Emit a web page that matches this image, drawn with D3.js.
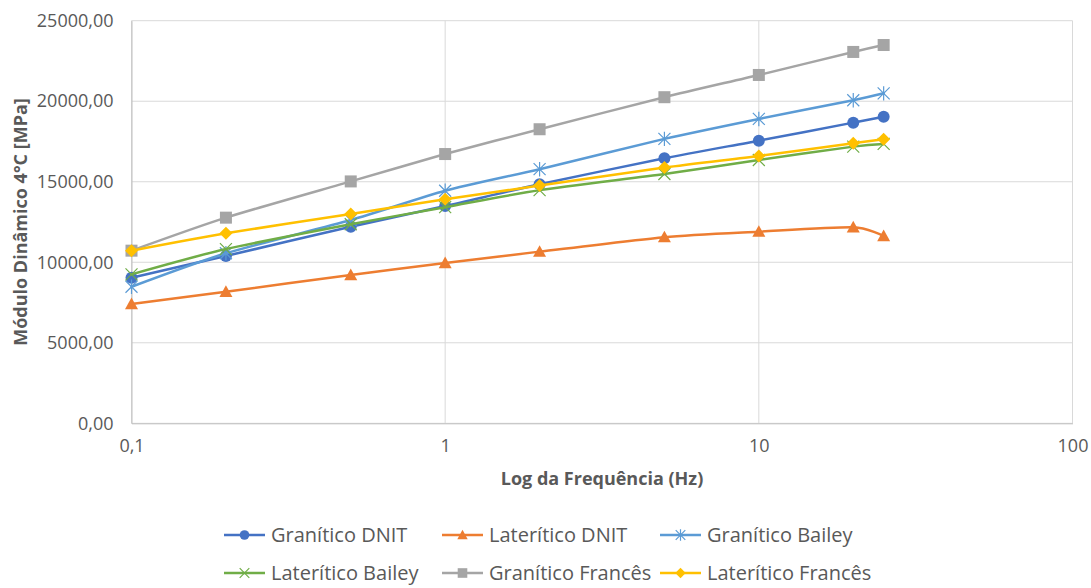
<!DOCTYPE html>
<html>
<head>
<meta charset="utf-8">
<script src="https://d3js.org/d3.v7.min.js"></script>
<style>
  body { margin: 0; background: #fff; }
  text { font-family: "Open Sans", Lato, sans-serif; }
</style>
</head>
<body>
<svg id="chart" width="1091" height="588"></svg>
<script>
const frequencies = [0.1, 0.2, 0.5, 1, 2, 5, 10, 20, 25];
const seriesNames = ["Granítico DNIT", "Laterítico DNIT", "Granítico Bailey", "Laterítico Bailey", "Granítico Francês", "Laterítico Francês"];
const graniticoDNIT   = [9040, 10390, 12210, 13490, 14840, 16460, 17550, 18670, 19040];
const lateriticoDNIT  = [7410, 8170, 9210, 9950, 10660, 11560, 11900, 12170, 11630];
const graniticoBailey = [8480, 10560, 12620, 14440, 15780, 17660, 18900, 20060, 20490];
const lateriticoBailey= [9250, 10820, 12360, 13420, 14480, 15480, 16350, 17180, 17350];
const graniticoFrances= [10720, 12770, 15020, 16720, 18260, 20250, 21630, 23060, 23490];
const lateriticoFrances=[10720, 11800, 13000, 13910, 14760, 15880, 16600, 17390, 17640];
const xTicks = [0.1, 1, 10, 100];
const yTicks = [0, 5000, 10000, 15000, 20000, 25000];

const colors = ["#4472C4", "#ED7D31", "#5B9BD5", "#70AD47", "#A5A5A5", "#FFC000"];
const markers = ["circle", "triangle", "asterisk", "cross", "square", "diamond"];
const allValues = [graniticoDNIT, lateriticoDNIT, graniticoBailey, lateriticoBailey, graniticoFrances, lateriticoFrances];

const svg = d3.select("#chart");
const pLeft = 131.5, pRight = 1072.5, pTop = 20.7, pBottom = 423.3;

const x = d3.scaleLog().domain([0.1, 100]).range([pLeft, pRight]);
const y = d3.scaleLinear().domain([0, 25000]).range([pBottom, pTop]);

// gridlines
svg.append("g").selectAll("line").data(yTicks).join("line")
  .attr("x1", pLeft).attr("x2", pRight)
  .attr("y1", d => y(d)).attr("y2", d => y(d))
  .attr("stroke", "#d9d9d9").attr("stroke-width", 1);
svg.append("g").selectAll("line").data(xTicks).join("line")
  .attr("x1", d => x(d)).attr("x2", d => x(d))
  .attr("y1", pTop).attr("y2", pBottom)
  .attr("stroke", "#d9d9d9").attr("stroke-width", 1);

// axes
const fmtY = d => d3.format(".2f")(d).replace(".", ",");
const fmtX = d => String(d).replace(".", ",");
const yAxis = svg.append("g").attr("transform", `translate(${pLeft},0)`)
  .call(d3.axisLeft(y).tickValues(yTicks).tickFormat(fmtY).tickSize(0).tickPadding(18));
yAxis.select(".domain").attr("stroke", "#bfbfbf");
yAxis.selectAll("text").attr("font-size", 18).attr("fill", "#595959");
const xAxis = svg.append("g").attr("transform", `translate(0,${pBottom})`)
  .call(d3.axisBottom(x).tickValues(xTicks).tickFormat(fmtX).tickSize(0).tickPadding(16));
xAxis.select(".domain").attr("stroke", "#bfbfbf");
xAxis.selectAll("text").attr("font-size", 18).attr("fill", "#595959");

// axis titles
svg.append("text").attr("x", (pLeft + pRight) / 2).attr("y", 485)
  .attr("text-anchor", "middle").attr("font-size", 18).attr("font-weight", "bold")
  .attr("fill", "#595959").text("Log da Frequência (Hz)");
svg.append("text").attr("transform", `translate(27,${(pTop + pBottom) / 2}) rotate(-90)`)
  .attr("text-anchor", "middle").attr("font-size", 18).attr("font-weight", "bold")
  .attr("fill", "#595959").text("Módulo Dinâmico 4°C [MPa]");

function drawMarker(g, type, cx, cy, color, s) {
  s = s || 1;
  if (type === "circle") {
    g.append("circle").attr("cx", cx).attr("cy", cy).attr("r", 6 * s).attr("fill", color);
  } else if (type === "triangle") {
    const r = 6.5 * s;
    g.append("path").attr("d", `M${cx},${cy - r}L${cx + r},${cy + r * 0.8}L${cx - r},${cy + r * 0.8}Z`).attr("fill", color);
  } else if (type === "square") {
    const r = 6 * s;
    g.append("rect").attr("x", cx - r).attr("y", cy - r).attr("width", 2 * r).attr("height", 2 * r).attr("fill", color);
  } else if (type === "diamond") {
    const r = 6.5 * s;
    g.append("path").attr("d", `M${cx},${cy - r}L${cx + r},${cy}L${cx},${cy + r}L${cx - r},${cy}Z`).attr("fill", color);
  } else if (type === "cross") {
    const r = 6 * s;
    g.append("path").attr("d", `M${cx - r},${cy - r}L${cx + r},${cy + r}M${cx - r},${cy + r}L${cx + r},${cy - r}`)
      .attr("stroke", color).attr("stroke-width", 1.2);
  } else if (type === "asterisk") {
    const r = 6 * s;
    g.append("path").attr("d", `M${cx - r},${cy - r}L${cx + r},${cy + r}M${cx - r},${cy + r}L${cx + r},${cy - r}M${cx},${cy - r * 1.2}L${cx},${cy + r * 1.2}`)
      .attr("stroke", color).attr("stroke-width", 1.2);
  }
}

const line = d3.line().x(d => x(d[0])).y(d => y(d[1])).curve(d3.curveCardinal.tension(0.3));

allValues.forEach((vals, i) => {
  const g = svg.append("g");
  const pts = frequencies.map((f, j) => [f, vals[j]]);
  g.append("path").attr("d", line(pts)).attr("fill", "none")
    .attr("stroke", colors[i]).attr("stroke-width", 2.5).attr("stroke-linecap", "round");
  pts.forEach(p => drawMarker(g, markers[i], x(p[0]), y(p[1]), colors[i]));
});

// legend
const legendPos = [[224, 535], [442, 535], [660, 535], [224, 573], [442, 573], [660, 573]];
seriesNames.forEach((name, i) => {
  const [lx, ly] = legendPos[i];
  const g = svg.append("g");
  g.append("line").attr("x1", lx).attr("x2", lx + 41).attr("y1", ly).attr("y2", ly)
    .attr("stroke", colors[i]).attr("stroke-width", 2.5);
  drawMarker(g, markers[i], lx + 20.5, ly, colors[i], 0.8);
  g.append("text").attr("x", lx + 47).attr("y", ly + 7).attr("font-size", 20)
    .attr("fill", "#595959").text(name);
});
</script>
</body>
</html>
